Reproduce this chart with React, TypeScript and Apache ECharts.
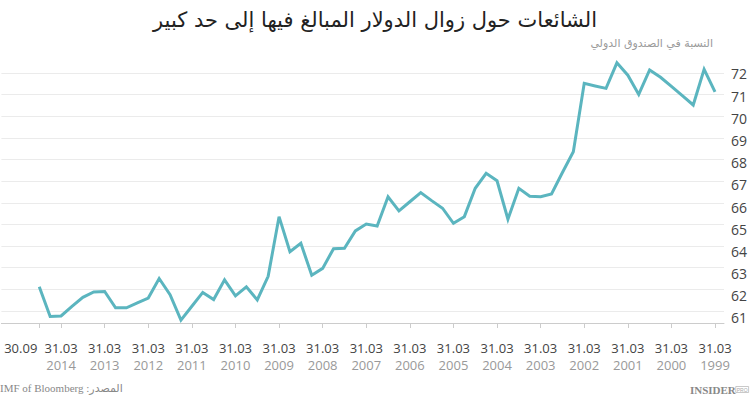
import React, { useEffect, useRef } from "react";
import * as echarts from "echarts";

// Quarterly values, 31.03.1999 (index 0) to 30.09.2014 (index 62)
const startYear = 1999;
const shareValues: number[] = [
  71.13, 72.17, 70.52, 70.95, 71.38, 71.8, 72.14, 71.01, 71.9, 72.47,
  71.29, 71.4, 71.52, 68.36, 67.4, 66.41, 66.28, 66.3, 66.67, 65.24,
  67.02, 67.36, 66.67, 65.36, 65.05, 65.75, 66.1, 66.47, 66.05, 65.63,
  66.28, 64.93, 65.02, 64.7, 63.9, 63.88, 62.97, 62.65, 64.13, 63.74,
  65.36, 62.6, 61.51, 62.12, 61.7, 62.44, 61.53, 61.86, 61.22, 60.58,
  61.75, 62.5, 61.6, 61.38, 61.15, 61.15, 61.9, 61.88, 61.63, 61.21,
  60.77, 60.75, 62.12,
];
const yearTickIndices: number[] = [0, 4, 8, 12, 16, 20, 24, 28, 32, 36, 40, 44, 48, 52, 56, 60];
const lastIndex = 62;
const firstQuarterLabel = "31.03";
const lastLabel = "30.09";

const titleText = "الشائعات حول زوال الدولار المبالغ فيها إلى حد كبير";
const unitText = "النسبة في الصندوق الدولي";
const sourceText = "IMF of Bloomberg :المصدر";

export default function App() {
  const ref = useRef<HTMLDivElement>(null);
  useEffect(() => {
    if (!ref.current) return;
    const chart = echarts.init(ref.current, undefined, { renderer: "svg" });
    const xMin = -0.823;
    const xMax = 65.475;
    const option: any = {
      animation: false,
      backgroundColor: "#ffffff",
      title: {
        text: titleText,
        left: "center",
        top: 4,
        textStyle: {
          fontFamily: "DejaVu Sans",
          fontSize: 21,
          fontWeight: "normal",
          color: "#222222",
        },
      },
      grid: { left: 0, right: 25, top: 60, bottom: 75, containLabel: false },
      xAxis: [
        {
          type: "value",
          inverse: true,
          min: xMin,
          max: xMax,
          position: "bottom",
          splitLine: { show: false },
          axisLine: { show: true, lineStyle: { color: "#cccccc", width: 1 } },
          axisTick: {
            show: true,
            customValues: [...yearTickIndices, lastIndex],
            length: 5,
            lineStyle: { color: "#cccccc" },
          },
          axisLabel: {
            show: true,
            customValues: yearTickIndices,
            margin: 16,
            formatter: (v: number) =>
              `{d|${firstQuarterLabel}}\n{y|${startYear + v / 4}}`,
            rich: {
              d: { fontFamily: "Open Sans", fontSize: 13, color: "#444444", lineHeight: 17 },
              y: { fontFamily: "Open Sans", fontSize: 13, color: "#999999", lineHeight: 17 },
            },
          },
        },
        {
          type: "value",
          inverse: true,
          min: xMin,
          max: xMax,
          position: "bottom",
          splitLine: { show: false },
          axisLine: { show: false },
          axisTick: { show: false },
          axisLabel: {
            show: true,
            customValues: [lastIndex],
            margin: 16,
            formatter: () => `{e|${lastLabel}}`,
            rich: {
              e: {
                fontFamily: "Open Sans",
                fontSize: 13,
                color: "#444444",
                lineHeight: 17,
                padding: [0, 37, 0, 0],
              },
            },
          },
        },
      ],
      yAxis: [
        {
          type: "value",
          position: "right",
          min: 60.445,
          max: 72.6,
          splitNumber: 12,
          minInterval: 1,
          maxInterval: 1,
          axisLine: { show: false },
          axisTick: { show: false },
          axisLabel: { show: false },
          splitLine: {
            show: true,
            showMinLine: false,
            showMaxLine: false,
            lineStyle: { color: "#ebebeb", width: 1 },
          },
        },
        {
          type: "value",
          position: "right",
          min: 60.77,
          max: 72.63,
          splitNumber: 12,
          minInterval: 1,
          maxInterval: 1,
          axisLine: { show: false },
          axisTick: { show: false },
          splitLine: { show: false },
          axisLabel: {
            show: true,
            showMinLabel: false,
            showMaxLabel: false,
            margin: 7,
            fontFamily: "Open Sans",
            fontSize: 14,
            color: "#444444",
          },
        },
      ],
      series: [
        {
          type: "line",
          xAxisIndex: 0,
          yAxisIndex: 0,
          data: shareValues.map((v, i) => [i, v]),
          showSymbol: false,
          symbol: "none",
          lineStyle: { color: "#5bb5bf", width: 3, join: "miter" },
          itemStyle: { color: "#5bb5bf" },
        },
      ],
      graphic: [
        {
          type: "text",
          right: 37,
          top: 38,
          style: {
            text: unitText,
            fontFamily: "DejaVu Sans",
            fontSize: 11,
            fill: "#9a9a9a",
          },
        },
        {
          type: "text",
          left: 0,
          top: 382,
          style: {
            text: sourceText,
            fontFamily: "Liberation Serif, DejaVu Sans",
            fontSize: 11,
            fill: "#888888",
          },
        },
        {
          type: "text",
          right: 1,
          top: 384,
          style: {
            text: "{a|INSIDER}{b|PRO}",
            rich: {
              a: {
                fontFamily: "Liberation Serif",
                fontSize: 11,
                fontWeight: "bold",
                fill: "#888888",
              },
              b: {
                fontFamily: "Liberation Sans",
                fontSize: 5,
                fill: "#aaaaaa",
                borderColor: "#bbbbbb",
                borderWidth: 0.8,
                padding: [1, 1, 0, 1],
              },
            },
          },
        },
      ],
    };
    chart.setOption(option);
    return () => chart.dispose();
  }, []);
  return (
    <div
      ref={ref}
      style={{ position: "fixed", left: 0, top: 0, width: 750, height: 398 }}
    />
  );
}
